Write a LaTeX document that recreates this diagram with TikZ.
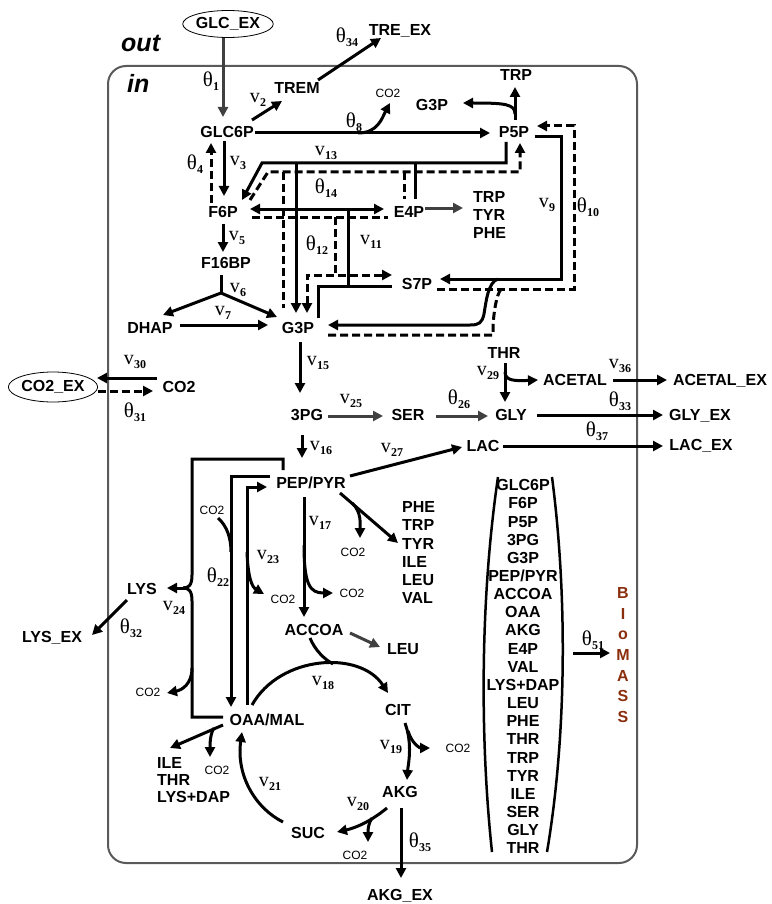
\documentclass[tikz,border=0pt]{standalone}
\usepackage{fontspec}
\setmainfont{Liberation Sans}
\newfontfamily\serf{Liberation Serif}
\usetikzlibrary{arrows.meta,shapes.geometric}
\definecolor{biocol}{HTML}{8B2E0E}
\definecolor{gry}{HTML}{404040}
\definecolor{boxcol}{HTML}{5A5A5A}
\newcommand{\thl}[1]{{\serf\fontsize{21}{21}\selectfont θ\kern0.3pt\raisebox{-4.5pt}{\fontsize{12}{12}\selectfont\bfseries #1}}}
\newcommand{\vl}[1]{{\serf\fontsize{20}{20}\selectfont v\kern0.3pt\raisebox{-4.5pt}{\fontsize{12}{12}\selectfont\bfseries #1}}}
\tikzset{
  mt/.style={font=\fontsize{16}{18}\selectfont\bfseries, inner sep=0pt, text height=11.5pt, text depth=0pt},
  co/.style={font=\fontsize{12}{14}\selectfont, inner sep=0pt, text height=8.6pt, text depth=0pt},
  lab/.style={inner sep=0pt},
  >={Triangle[length=10pt,width=10pt]},
  ar/.style={line width=3pt,->},
  ln/.style={line width=3pt},
  dl/.style={line width=3pt, dash pattern=on 8pt off 4pt},
  ga/.style={line width=3pt, draw=gry, ->},
  exo/.style={ellipse, draw, line width=0.8pt, inner sep=0pt, font=\fontsize{16}{18}\selectfont\bfseries}
}
\begin{document}
\begin{tikzpicture}[x=1pt,y=-1pt]
\useasboundingbox (0,0) rectangle (771,904);
% compartment
\draw[boxcol, line width=2pt, rounded corners=18pt] (108,66) rectangle (637,863);
\node[font=\fontsize{25}{26}\selectfont\bfseries\itshape, inner sep=0pt, anchor=base west] (outT) at (121,52) {out};
\node[font=\fontsize{25}{26}\selectfont\bfseries\itshape, inner sep=0pt, anchor=base west] (inT) at (127,93) {in};

% metabolites
\node[exo, minimum width=90pt, minimum height=27pt] (GLCEX) at (228,24) {GLC\_EX};
\node[mt] (GLC6P) at (227,132) {GLC6P};
\node[mt] (TREM) at (297,88) {TREM};
\node[mt] (TREEX) at (400,30) {TRE\_EX};
\node[co] (co2a) at (388,93) {CO2};
\node[mt] (G3Pa) at (432,105) {G3P};
\node[mt] (TRPa) at (516,75) {TRP};
\node[mt] (P5P) at (514,132) {P5P};
\node[mt] (F6P) at (223,212) {F6P};
\node[mt] (E4P) at (409,212) {E4P};
\node[mt, anchor=west] (TRPb) at (473,197) {TRP};
\node[mt, anchor=west] (TYRb) at (473,215) {TYR};
\node[mt, anchor=west] (PHEb) at (473,233) {PHE};
\node[mt] (F16BP) at (226,263) {F16BP};
\node[mt] (DHAP) at (150,328) {DHAP};
\node[mt] (G3P) at (298,328) {G3P};
\node[mt] (S7P) at (417,284) {S7P};
\node[mt] (CO2in) at (179,387) {CO2};
\node[exo, minimum width=80pt, minimum height=30pt] (CO2EX) at (53,387) {CO2\_EX};
\node[mt] (THR) at (504,353) {THR};
\node[mt] (ACETAL) at (575,380) {ACETAL};
\node[mt] (ACETALEX) at (720,380) {ACETAL\_EX};
\node[mt] (PG3) at (307,415) {3PG};
\node[mt] (SER) at (408,415) {SER};
\node[mt] (GLY) at (511,415) {GLY};
\node[mt] (GLYEX) at (700,415) {GLY\_EX};
\node[mt] (LAC) at (483,446) {LAC};
\node[mt] (LACEX) at (701,445) {LAC\_EX};
\node[mt] (PEP) at (311,483) {PEP/PYR};
\foreach \t [count=\i from 0] in {PHE,TRP,TYR,ILE,LEU,VAL}
  \node[mt, anchor=west] (aro\i) at (402,{507+18.2*\i}) {\t};
\node[co] (co2b) at (212,510) {CO2};
\node[co] (co2c) at (353,552) {CO2};
\node[co] (co2d) at (283,599) {CO2};
\node[co] (co2e) at (352,593) {CO2};
\node[co] (co2f) at (148,692) {CO2};
\node[co] (co2g) at (217,770) {CO2};
\node[co] (co2h) at (458,748) {CO2};
\node[co] (co2i) at (355,855) {CO2};
\node[mt] (LYS) at (142,589) {LYS};
\node[mt] (LYSEX) at (52,637) {LYS\_EX};
\node[mt] (ACCOA) at (314,630) {ACCOA};
\node[mt] (LEU) at (403,649) {LEU};
\node[mt] (OAA) at (267,720) {OAA/MAL};
\node[mt] (CIT) at (398,710) {CIT};
\node[mt] (AKG) at (400,792) {AKG};
\node[mt] (SUC) at (308,833) {SUC};
\node[mt] (AKGEX) at (400,895) {AKG\_EX};
\node[mt, anchor=west] (ILEc) at (157,763) {ILE};
\node[mt, anchor=west] (THRc) at (157,780) {THR};
\node[mt, anchor=west] (LYSc) at (157,797) {LYS+DAP};
\foreach \t [count=\i from 0] in {GLC6P,F6P,P5P,3PG,G3P,PEP/PYR,ACCOA,OAA,AKG,E4P,VAL,LYS+DAP,LEU,PHE,THR,TRP,TYR,ILE,SER,GLY,THR}
  \node[mt] (bm\i) at (523,{485+18.15*\i}) {\t};
\foreach \t [count=\i from 0] in {B,I,o,M,A,S,S}
  \node[mt, text=biocol] (bio\i) at (623,{593+20.6*\i}) {\t};

% flux labels
\node[lab] (L1) at (211,81) {\thl{1}};
\node[lab] (L2) at (258,100) {\vl{2}};
\node[lab] (L34) at (347,37) {\thl{34}};
\node[lab] (L8) at (354,122) {\thl{8}};
\node[lab] (L3) at (238,163) {\vl{3}};
\node[lab] (L4) at (195,164) {\thl{4}};
\node[lab] (L13) at (326,153) {\vl{13}};
\node[lab] (L14) at (326,188) {\thl{14}};
\node[lab] (L12) at (317,245) {\thl{12}};
\node[lab] (L11) at (371,242) {\vl{11}};
\node[lab] (L5) at (237,238) {\vl{5}};
\node[lab] (L6) at (238,290) {\vl{6}};
\node[lab] (L7) at (223,313) {\vl{7}};
\node[lab] (L9) at (547,205) {\vl{9}};
\node[lab] (L10) at (588,207) {\thl{10}};
\node[lab] (L15) at (318,363) {\vl{15}};
\node[lab] (L16) at (321,448) {\vl{16}};
\node[lab] (L25) at (351,401) {\vl{25}};
\node[lab] (L26) at (459,399) {\thl{26}};
\node[lab] (L29) at (488,373) {\vl{29}};
\node[lab] (L27) at (392,450) {\vl{27}};
\node[lab] (L36) at (620,366) {\vl{36}};
\node[lab] (L33) at (620,401) {\thl{33}};
\node[lab] (L37) at (597,431) {\thl{37}};
\node[lab] (L30) at (135,362) {\vl{30}};
\node[lab] (L31) at (135,412) {\thl{31}};
\node[lab] (L17) at (320,523) {\vl{17}};
\node[lab] (L23) at (268,557) {\vl{23}};
\node[lab] (L22) at (218,577) {\thl{22}};
\node[lab] (L24) at (174,608) {\vl{24}};
\node[lab] (L32) at (131,628) {\thl{32}};
\node[lab] (L18) at (323,683) {\vl{18}};
\node[lab] (L19) at (391,747) {\vl{19}};
\node[lab] (L35) at (420,842) {\thl{35}};
\node[lab] (L20) at (358,804) {\vl{20}};
\node[lab] (L21) at (270,784) {\vl{21}};
\node[lab] (L51) at (593,640) {\thl{51}};

% connectors: top
\draw[ga] (223,38) -- (223,117);
\draw[ar] (252,120) -- (282,101);
\draw[ar] (318,80) -- (381,38);
\draw[ar] (255,133) -- (490,133);
\draw[ar] (358,133) .. controls (378,133) and (382,118) .. (390,103);
\draw[ar] (515,120) -- (515,87);
\draw[ar] (515,114) .. controls (515,104) and (505,103) .. (463,103);
\draw[ar] (224,141) -- (224,196);
\draw[dl,->] (211,203) -- (211,143);
\draw[ar] (223,224) -- (223,252);
\draw[ln] (221,275) -- (221,293);
\draw[ar] (221,293) -- (163,315);
\draw[ar] (221,293) -- (277,317);
\draw[ar] (180,325) -- (268,325);
% transketolase v13 / theta14
\draw[ar] (506,142) -- (506,163) -- (262,163) -- (242,200);
\draw[ln] (415,163) -- (415,199);
\draw[ar] (296,163) -- (296,313);
\draw[dl,->] (250,200) -- (268,172) -- (520,172) -- (520,143);
\draw[dl] (404,172) -- (404,199);
\draw[dl] (283,172) -- (283,308);
% F6P <-> E4P
\draw[ln,<->] (250,209) -- (384,209);
\draw[dl] (252,217) -- (388,217);
\draw[ga] (425,208) -- (463,208);
% v11 / theta12
\draw[ln] (348,209) -- (348,286);
\draw[ln] (318,318) -- (318,286) -- (392,286);
\draw[dl] (335,217) -- (335,275);
\draw[dl,<->] (307,313) -- (307,275) -- (392,275);
% v9 / theta10
\draw[ar] (535,137) -- (561,137) -- (561,279) -- (440,279);
\draw[ar] (498,279) .. controls (488,282) and (486,302) .. (484,314) .. controls (482,323) and (479,325) .. (470,325) -- (328,325);
\draw[dl,->] (437,289) -- (574,289) -- (574,126) -- (537,126);
\draw[dl] (501,289) .. controls (496,296) and (494,312) .. (493,325) -- (493,335) -- (327,335);
% glycolysis lower
\draw[ar] (300,342) -- (300,393);
\draw[ga] (328,416) -- (383,416);
\draw[ga] (436,416) -- (488,416);
\draw[ar] (505,363) -- (505,402);
\draw[ar] (505,372) .. controls (505,381) and (515,381) .. (538,380);
\draw[ar] (613,380) -- (667,380);
\draw[ar] (537,415) -- (663,415);
\draw[ar] (503,446) -- (663,446);
\draw[ar] (350,476) -- (462,447);
\draw[ar] (302,435) -- (302,458);
% CO2 exchange
\draw[ar] (157,378) -- (97,378);
\draw[dl,->] (98,391) -- (153,391);
% PEP/PYR
\draw[ar] (304,497) -- (304,617);
\draw[ar] (304,545) .. controls (304,585) and (310,593) .. (333,593);
\draw[ar] (340,493) -- (398,543);
\draw[ar] (352,503) .. controls (362,512) and (360,525) .. (360,538);
\draw[ar] (270,476) -- (231,476) -- (231,707);
\draw[ln] (218,518) .. controls (227,526) and (231,538) .. (231,552);
\draw[ar] (247,705) -- (247,487) -- (267,487);
\draw[ar] (247,552) .. controls (248,578) and (252,587) .. (264,594);
% LYS
\draw[ln] (283,470) -- (283,459) -- (192,459) -- (192,575) .. controls (192,585) and (189,588) .. (183,588);
\draw[ln] (223,717) -- (192,717) -- (192,601) .. controls (192,591) and (189,588) .. (183,588);
\draw[ar] (185,588) -- (167,588);
\draw[ar] (192,668) .. controls (192,684) and (182,690) .. (167,693);
\draw[ar] (127,600) -- (92,635);
% TCA
\draw[ar] (223,725) -- (170,748);
\draw[ar] (214,728) .. controls (210,734) and (210,745) .. (210,757);
\draw[ar] (252,705) .. controls (280,655) and (360,650) .. (388,693);
\draw[ln] (310,638) .. controls (315,650) and (324,659) .. (333,664);
\draw[ga] (350,633) -- (380,647);
\draw[ar] (405,723) .. controls (413,745) and (408,765) .. (407,780);
\draw[ar] (408,731) .. controls (412,744) and (420,748) .. (430,748);
\draw[ar] (401,808) -- (401,878);
\draw[ar] (387,808) .. controls (370,822) and (355,828) .. (337,832);
\draw[ar] (372,818) .. controls (368,824) and (368,830) .. (368,842);
\draw[ar] (283,822) .. controls (255,808) and (236,775) .. (242,732);
% biomass
\draw[line width=2.5pt] (498,477) .. controls (480,600) and (480,740) .. (492,852);
\draw[line width=2.5pt] (552,477) .. controls (568,600) and (566,740) .. (547,852);
\draw[ar] (573,653) -- (610,653);
\end{tikzpicture}
\end{document}
